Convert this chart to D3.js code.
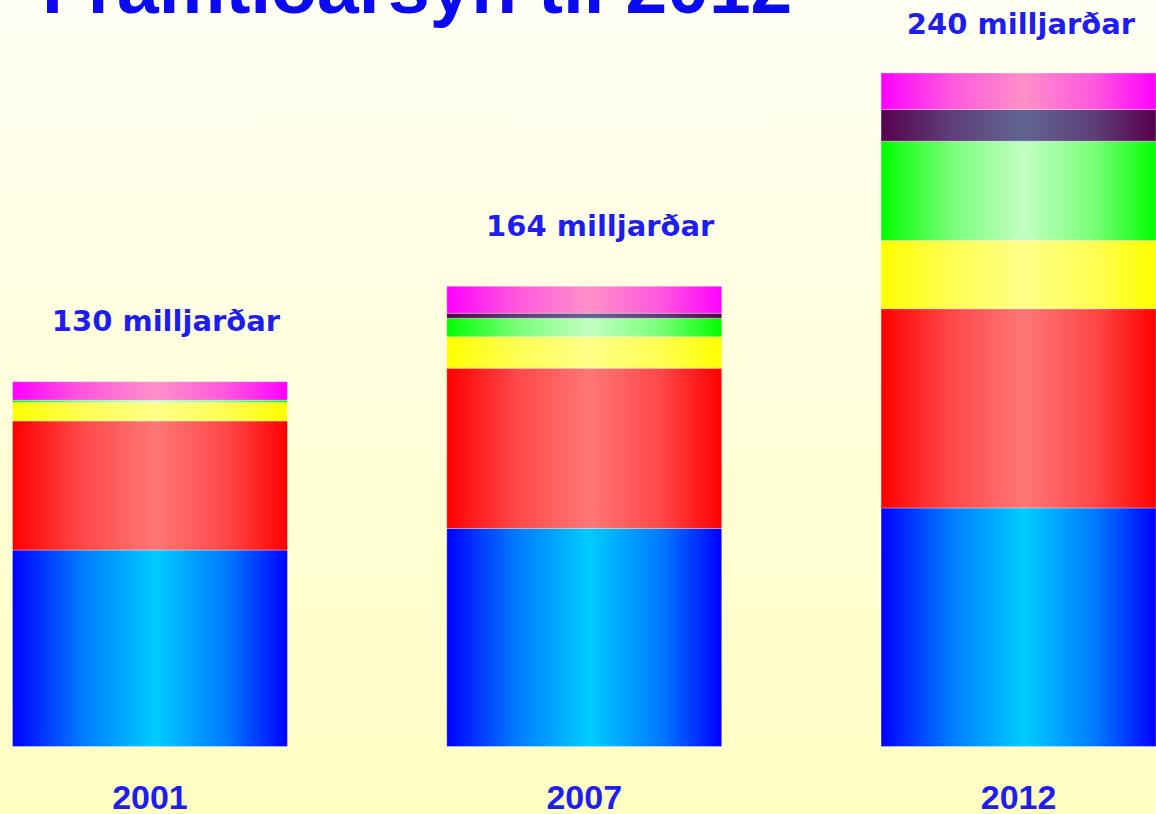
<!DOCTYPE html>
<html>
<head>
<meta charset="utf-8">
<script src="https://cdn.jsdelivr.net/npm/d3@7"></script>
<style>
  html, body { margin: 0; padding: 0; overflow: hidden; }
  svg { display: block; }
</style>
</head>
<body>
<svg id="chart" width="1156" height="814"></svg>
<script>
// ---- data ----
const titleText = "Framtíðarsýn til 2012";
const categories = ["2001", "2007", "2012"];
const seriesKeys = ["s1", "s2", "s3", "s4", "s5", "s6"]; // bottom to top
const s1 = [70, 77.7, 85];     // blue
const s2 = [46, 57.1, 71];     // red
const s3 = [6.6, 11.2, 24.3];  // yellow
const s4 = [0.8, 6.6, 35.4];   // green
const s5 = [0, 1.8, 11.3];     // dark purple
const s6 = [6.6, 9.6, 13];     // magenta
const totals = [130, 164, 240];
const totalSuffix = " milljarðar";

// ---- styles ----
const W = 1156, H = 814;
const palette = {
  s1: ["#0000ff", "#00ccff"],
  s2: ["#ff0000", "#ff7777"],
  s3: ["#ffff00", "#ffff88"],
  s4: ["#00ff00", "#c4ffc4"],
  s5: ["#58004f", "#626690"],
  s6: ["#ff00ff", "#ff90c8"]
};

const svg = d3.select("#chart");
const defs = svg.append("defs");

const bg = defs.append("linearGradient").attr("id", "bg")
  .attr("x1", 0).attr("y1", 0).attr("x2", 0).attr("y2", 1);
bg.append("stop").attr("offset", 0).attr("stop-color", "#fffff4");
bg.append("stop").attr("offset", 1).attr("stop-color", "#ffffc2");
svg.append("rect").attr("width", W).attr("height", H).attr("fill", "url(#bg)");

seriesKeys.forEach(k => {
  const g = defs.append("linearGradient").attr("id", "g_" + k)
    .attr("x1", 0).attr("y1", 0).attr("x2", 1).attr("y2", 0);
  const [edge, mid] = palette[k];
  const m = d3.interpolateRgb(edge, mid);
  g.append("stop").attr("offset", 0).attr("stop-color", edge);
  g.append("stop").attr("offset", 0.25).attr("stop-color", m(0.6));
  g.append("stop").attr("offset", 0.52).attr("stop-color", mid);
  g.append("stop").attr("offset", 0.78).attr("stop-color", m(0.6));
  g.append("stop").attr("offset", 1).attr("stop-color", edge);
});

// ---- table ----
const seriesData = { s1, s2, s3, s4, s5, s6 };
const table = categories.map((c, i) => {
  const row = { cat: c };
  seriesKeys.forEach(k => row[k] = seriesData[k][i]);
  return row;
});
const stacked = d3.stack().keys(seriesKeys)(table);

// ---- scales ----
const x = d3.scaleBand().domain(categories).range([12.5, 1156]).paddingInner(0.367).paddingOuter(0);
const y = d3.scaleLinear().domain([0, 240]).range([746.5, 73]);

// ---- bars ----
svg.append("g").selectAll("g").data(stacked).join("g")
  .attr("fill", d => "url(#g_" + d.key + ")")
  .selectAll("rect").data(d => d.filter(p => p[1] - p[0] > 0)).join("rect")
  .attr("x", d => x(d.data.cat))
  .attr("width", x.bandwidth())
  .attr("y", d => y(d[1]))
  .attr("height", d => y(d[0]) - y(d[1]))
  .attr("stroke", "rgba(255,255,255,0.3)")
  .attr("stroke-width", 1);

// ---- title ----
svg.append("text")
  .attr("x", 42).attr("y", 13)
  .attr("font-family", "'Liberation Sans', Arial, sans-serif")
  .attr("font-weight", "bold")
  .attr("font-size", 75)
  .attr("fill", "#0a0af2")
  .text(titleText);

// ---- total labels ----
svg.append("g").selectAll("text").data(categories).join("text")
  .attr("x", (c) => Math.min(x(c) + x.bandwidth() / 2 + 16, W - 135))
  .attr("y", (c, i) => Math.max(y(totals[i]) - 50.6, 33.5))
  .attr("text-anchor", "middle")
  .attr("font-family", "'DejaVu Sans', Verdana, sans-serif")
  .attr("font-weight", "bold")
  .attr("font-size", 29)
  .attr("fill", "#1e1ef0")
  .text((c, i) => totals[i] + totalSuffix);

// ---- category axis labels ----
const xAxis = d3.axisBottom(x).tickSize(0).tickPadding(0);
const ax = svg.append("g").attr("transform", "translate(0,746.5)").call(xAxis);
ax.select(".domain").remove();
ax.selectAll("text")
  .attr("dy", null)
  .attr("y", 62)
  .attr("font-family", "'Liberation Sans', Arial, sans-serif")
  .attr("font-weight", "bold")
  .attr("font-size", 34)
  .attr("fill", "#1e1ef0");
</script>
</body>
</html>
